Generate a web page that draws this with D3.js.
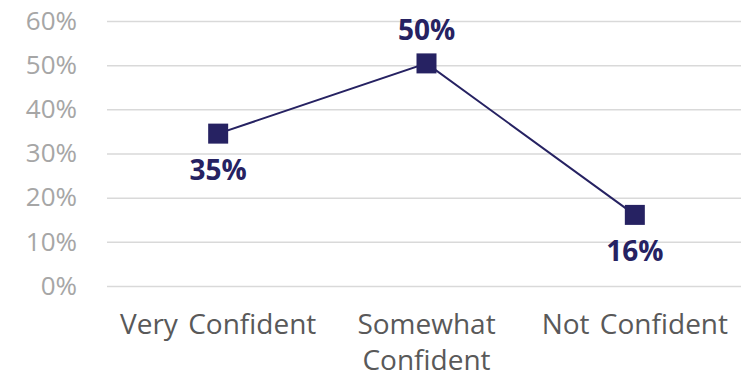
<!DOCTYPE html>
<html>
<head>
<meta charset="utf-8">
<style>
    body { margin: 0; background: #fff; }
    svg text { font-family: 'Open Sans', 'Noto Sans', sans-serif; }
    .y .domain, .x .domain { display: none; }
    .y .tick line { stroke: #d9d9d9; stroke-width: 1.5; }
    .y .tick text { fill: #a6a6a6; font-size: 26px; }
    .x .tick line { display: none; }
    .x .tick text { fill: #595959; font-size: 28px; word-spacing: 3px; }
</style>
</head>
<body>
<svg width="748" height="379"></svg>
<script src="https://d3js.org/d3.v7.min.js"></script>
<script>
    let categories = ["Very Confident", "Somewhat Confident", "Not Confident"];
    let values = [34.5, 50.4, 16.1];
    let yTicks = [0, 10, 20, 30, 40, 50, 60];
    // label goes below (1) or above (-1) the marker
    let labelSide = [1, -1, 1];

    let svg = d3.select("svg");
    let margin = { top: 21, right: 7, bottom: 93, left: 107 };
    let width = 748, height = 379;
    let navy = "#262262";

    let x = d3.scaleBand()
        .domain(categories)
        .range([margin.left + 7, width - margin.right - 2]);

    let y = d3.scaleLinear()
        .domain([0, 60])
        .range([height - margin.bottom, margin.top]);

    svg.append("g")
        .attr("class", "y axis")
        .attr("transform", `translate(${margin.left},0)`)
        .call(d3.axisLeft(y)
            .tickValues(yTicks)
            .tickSize(-(width - margin.left - margin.right))
            .tickPadding(30)
            .tickFormat(d => d + "%"));

    let xAxis = svg.append("g")
        .attr("class", "x axis")
        .attr("transform", `translate(0,${height - margin.bottom})`)
        .call(d3.axisBottom(x).tickSize(0));

    // wrap long category names like Excel does
    xAxis.selectAll(".tick text").each(function (d) {
        let t = d3.select(this).attr("y", 48).attr("dy", null);
        let words = d.split(" ");
        t.text(null);
        let line = [];
        let tspan = t.append("tspan").attr("x", 0);
        words.forEach(w => {
            line.push(w);
            tspan.text(line.join(" "));
            if (tspan.node().getComputedTextLength() > x.bandwidth() - 4 && line.length > 1) {
                line.pop();
                tspan.text(line.join(" "));
                line = [w];
                tspan = t.append("tspan").attr("x", 0).attr("dy", 36).text(w);
            }
        });
    });

    let cx = d => x(d) + x.bandwidth() / 2;

    svg.append("path")
        .datum(values)
        .attr("fill", "none")
        .attr("stroke", navy)
        .attr("stroke-width", 2)
        .attr("d", d3.line().x((d, i) => cx(categories[i])).y(d => y(d)));

    svg.append("g")
        .selectAll("rect")
        .data(values)
        .join("rect")
        .attr("x", (d, i) => cx(categories[i]) - 10)
        .attr("y", d => y(d) - 10)
        .attr("width", 20)
        .attr("height", 20)
        .attr("fill", navy);

    svg.append("g")
        .selectAll("text")
        .data(values)
        .join("text")
        .attr("x", (d, i) => cx(categories[i]))
        .attr("y", (d, i) => y(d) + (labelSide[i] > 0 ? 46 : -23))
        .attr("text-anchor", "middle")
        .attr("fill", navy)
        .attr("font-size", "28px")
        .attr("font-weight", "bold")
        .text(d => Math.round(d) + "%");
</script>
</body>
</html>
